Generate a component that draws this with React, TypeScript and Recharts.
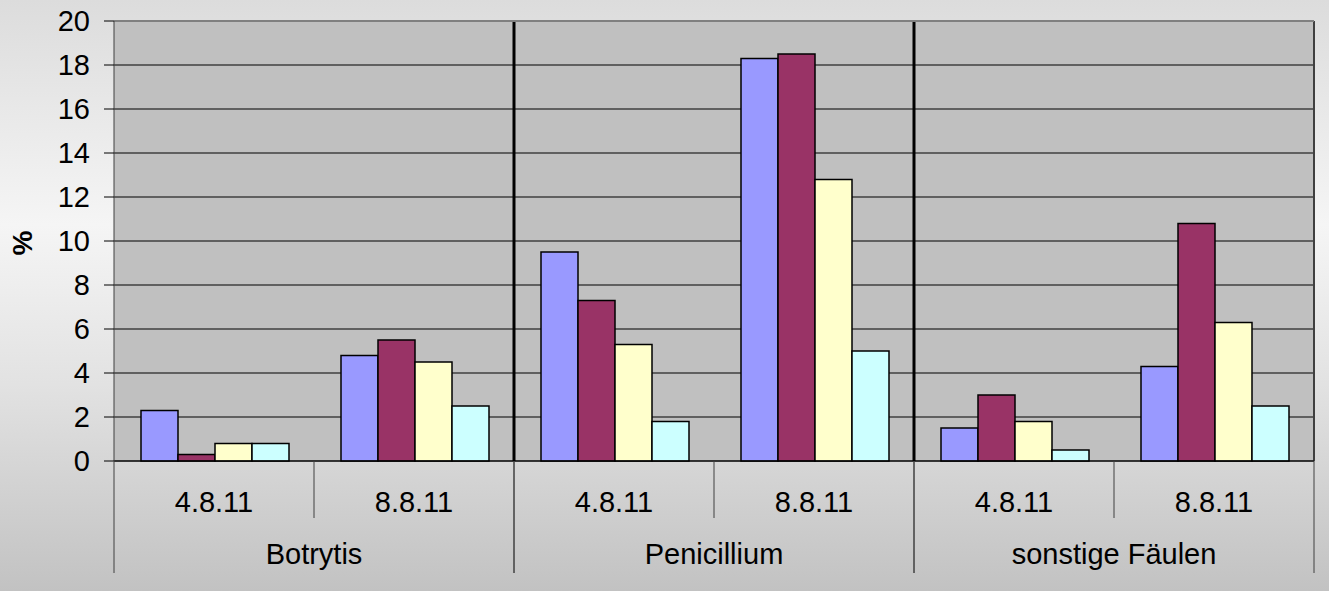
import React from "react";
import { BarChart, Bar, XAxis, YAxis, CartesianGrid, ReferenceLine } from "recharts";

const dates = ["4.8.11", "8.8.11", "4.8.11", "8.8.11", "4.8.11", "8.8.11"];
const groups = ["Botrytis", "Botrytis", "Penicillium", "Penicillium", "sonstige Fäulen", "sonstige Fäulen"];
const series1 = [2.3, 4.8, 9.5, 18.3, 1.5, 4.3];
const series2 = [0.3, 5.5, 7.3, 18.5, 3.0, 10.8];
const series3 = [0.8, 4.5, 5.3, 12.8, 1.8, 6.3];
const series4 = [0.8, 2.5, 1.8, 5.0, 0.5, 2.5];
const yTicks = [0, 2, 4, 6, 8, 10, 12, 14, 16, 18, 20];
const colors = ["#9999ff", "#993366", "#ffffcc", "#ccffff"];

const data = dates.map((d, i) => ({
  key: `c${i}`,
  date: d,
  group: groups[i],
  s1: series1[i],
  s2: series2[i],
  s3: series3[i],
  s4: series4[i],
}));

const FONT = "Arial, 'Liberation Sans', sans-serif";
const FS = 29;

const XTick = (props: any) => {
  const { x, y, payload } = props;
  const i = payload.index;
  const half = payload.offset && payload.offset > 0 ? payload.offset : 100;
  const d = data[i];
  const els: any[] = [];
  els.push(
    <text key="t" x={x} y={y + 51} textAnchor="middle" fontSize={FS} fontFamily={FONT} fill="#000">
      {d.date}
    </text>
  );
  if (i % 2 === 0) {
    els.push(<line key="l" x1={x - half} x2={x - half} y1={y} y2={y + 112} stroke="#404040" strokeWidth={1} />);
    els.push(<line key="s" x1={x + half} x2={x + half} y1={y} y2={y + 57} stroke="#404040" strokeWidth={1} />);
    els.push(
      <text key="g" x={x + half} y={y + 103} textAnchor="middle" fontSize={FS} fontFamily={FONT} fill="#000">
        {d.group}
      </text>
    );
  } else {
    els.push(<line key="r" x1={x + half} x2={x + half} y1={y} y2={y + 112} stroke="#404040" strokeWidth={1} />);
  }
  return <g>{els}</g>;
};

export default function App() {
  return (
    <div
      style={{
        position: "absolute",
        left: 0,
        top: 0,
        width: 1329,
        height: 591,
        background: "linear-gradient(180deg, #dcdcdc 0%, #f5f5f5 38%, #e2e2e2 65%, #c2c2c2 100%)",
      }}
    >
      <svg style={{ position: "absolute", left: 0, top: 0 }} width={60} height={591}>
        <text
          x={0}
          y={0}
          transform="translate(32,243) rotate(-90)"
          textAnchor="middle"
          fontSize={28}
          fontWeight="bold"
          fontFamily={FONT}
          fill="#000"
        >
          %
        </text>
      </svg>
      <div style={{ position: "absolute", left: 0, top: 0 }}>
        <BarChart
          width={1329}
          height={591}
          data={data}
          margin={{ top: 21, right: 15, left: 0, bottom: 0 }}
          barCategoryGap="13.5%"
          barGap={0}
        >
          <CartesianGrid vertical={false} stroke="#000" fill="#c0c0c0" strokeOpacity={1} />
          <XAxis
            xAxisId="cat"
            dataKey="key"
            height={130}
            tickSize={0}
            tickMargin={0}
            tickLine={false}
            axisLine={{ stroke: "#000" }}
            tick={<XTick />}
            interval={0}
          />
          <YAxis
            width={114}
            domain={[0, 20]}
            ticks={yTicks}
            interval={0}
            tickSize={10}
            tickMargin={14}
            tickLine={{ stroke: "#000" }}
            axisLine={{ stroke: "#404040" }}
            tick={{ fontSize: FS, fontFamily: FONT, fill: "#000" }}
          />
          <ReferenceLine xAxisId="cat" x="c1" position="end" stroke="#000" strokeWidth={3} />
          <ReferenceLine xAxisId="cat" x="c3" position="end" stroke="#000" strokeWidth={3} />
          <ReferenceLine xAxisId="cat" x="c5" position="end" stroke="#404040" strokeWidth={2} />
          <ReferenceLine xAxisId="cat" y={20} stroke="#808080" strokeWidth={2} />
          <Bar xAxisId="cat" dataKey="s1" fill={colors[0]} stroke="#000" strokeWidth={1.5} isAnimationActive={false} />
          <Bar xAxisId="cat" dataKey="s2" fill={colors[1]} stroke="#000" strokeWidth={1.5} isAnimationActive={false} />
          <Bar xAxisId="cat" dataKey="s3" fill={colors[2]} stroke="#000" strokeWidth={1.5} isAnimationActive={false} />
          <Bar xAxisId="cat" dataKey="s4" fill={colors[3]} stroke="#000" strokeWidth={1.5} isAnimationActive={false} />
        </BarChart>
      </div>
    </div>
  );
}
